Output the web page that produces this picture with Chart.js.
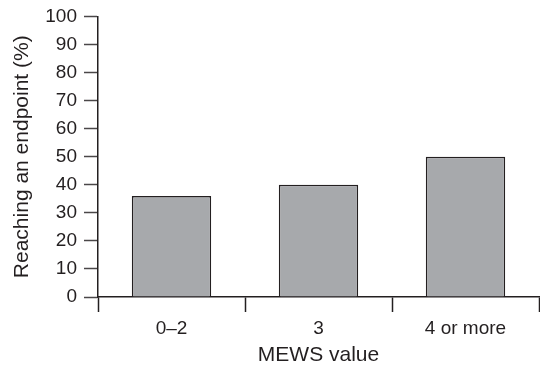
<!DOCTYPE html>
<html>
<head>
<meta charset="utf-8">
<script src="https://cdn.jsdelivr.net/npm/chart.js@4"></script>
<style>
    html, body { margin: 0; padding: 0; background: #fff; }
    #wrap { width: 540px; height: 365px; position: relative; }
</style>
</head>
<body>
<div id="wrap"><canvas id="mewsChart"></canvas></div>
<script>
// ============================================
// Data
// ============================================
const categories = ['0\u20132', '3', '4 or more'];
const endpointPct = [36, 40, 50];
const yTicks = [0, 10, 20, 30, 40, 50, 60, 70, 80, 90, 100];

const ink = '#231f20';
const tickInk = '#4a4748';
const barGrey = '#a7a9ac';
const fontFamily = '"Liberation Sans", Arial, Helvetica, sans-serif';

// ============================================
// Chart
// ============================================
const ctx = document.getElementById('mewsChart');
new Chart(ctx, {
    type: 'bar',
    data: {
        labels: categories,
        datasets: [{
            data: endpointPct,
            backgroundColor: barGrey,
            borderColor: ink,
            borderWidth: 1.5,
            borderSkipped: 'start',
            categoryPercentage: 1,
            barPercentage: 0.54
        }]
    },
    options: {
        responsive: true,
        maintainAspectRatio: false,
        animation: false,
        layout: {
            padding: { top: 10, right: 1, left: 0, bottom: 0 }
        },
        plugins: {
            legend: { display: false },
            tooltip: { enabled: false }
        },
        scales: {
            x: {
                grid: {
                    offset: true,
                    drawOnChartArea: false,
                    drawTicks: true,
                    tickLength: 15,
                    tickWidth: 1.5,
                    color: ink
                },
                border: { color: ink, width: 1.5 },
                ticks: {
                    color: ink,
                    padding: 5,
                    font: { family: fontFamily, size: 19 }
                },
                title: {
                    display: true,
                    text: 'MEWS value',
                    color: ink,
                    padding: { top: 0, bottom: 0 },
                    font: { family: fontFamily, size: 21, lineHeight: 0.9 }
                },
                afterFit: (scale) => { scale.height = 68; }
            },
            y: {
                min: 0,
                max: 100,
                afterBuildTicks: (scale) => {
                    scale.ticks = yTicks.map(v => ({ value: v }));
                },
                grid: {
                    drawOnChartArea: false,
                    tickLength: 14,
                    tickWidth: 1.5,
                    color: tickInk
                },
                border: { color: ink, width: 1.5 },
                ticks: {
                    color: ink,
                    padding: 7,
                    font: { family: fontFamily, size: 19, lineHeight: 1 }
                },
                title: {
                    display: true,
                    text: 'Reaching an endpoint (%)',
                    color: ink,
                    padding: { top: 10, bottom: 0 },
                    font: { family: fontFamily, size: 21, lineHeight: 1.2 }
                },
                afterFit: (scale) => { scale.width = 98; }
            }
        }
    }
});
</script>
</body>
</html>
